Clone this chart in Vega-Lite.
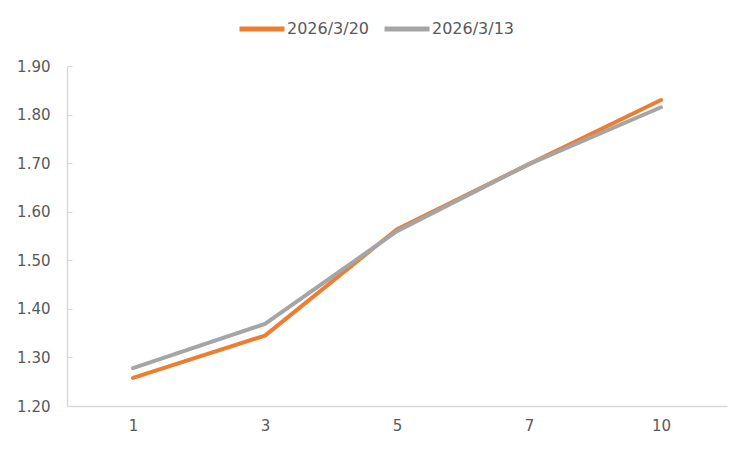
{
  "$schema": "https://vega.github.io/schema/vega-lite/v6.json",
  "autosize": {"type": "none"},
  "width": 660,
  "height": 340,
  "padding": {"left": 67, "top": 66, "right": 23, "bottom": 44},
  "background": "white",
  "config": {"view": {"stroke": null}, "font": "DejaVu Sans"},
  "data": {
    "values": [
      {"tenor": "1", "series": "2026/3/20", "value": 1.258},
      {"tenor": "3", "series": "2026/3/20", "value": 1.345},
      {"tenor": "5", "series": "2026/3/20", "value": 1.564},
      {"tenor": "7", "series": "2026/3/20", "value": 1.698},
      {"tenor": "10", "series": "2026/3/20", "value": 1.830},
      {"tenor": "1", "series": "2026/3/13", "value": 1.278},
      {"tenor": "3", "series": "2026/3/13", "value": 1.369},
      {"tenor": "5", "series": "2026/3/13", "value": 1.560},
      {"tenor": "7", "series": "2026/3/13", "value": 1.698},
      {"tenor": "10", "series": "2026/3/13", "value": 1.815}
    ]
  },
  "mark": {"type": "line", "strokeWidth": 4, "strokeCap": "round", "strokeJoin": "round"},
  "encoding": {
    "x": {
      "field": "tenor", "type": "ordinal", "sort": ["1", "3", "5", "7", "10"],
      "scale": {"type": "point", "padding": 0.5},
      "axis": {"title": null, "labelAngle": 0, "ticks": false, "domainColor": "#D9D9D9", "domainWidth": 1.5, "labelColor": "#595959", "labelFontSize": 15, "labelPadding": 12, "grid": false}
    },
    "y": {
      "field": "value", "type": "quantitative",
      "scale": {"domain": [1.2, 1.9], "nice": false, "zero": false},
      "axis": {"title": null, "values": [1.2, 1.3, 1.4, 1.5, 1.6, 1.7, 1.8, 1.9], "format": ".2f", "grid": false, "domainColor": "#D9D9D9", "domainWidth": 1.5, "tickColor": "#D9D9D9", "tickSize": -5, "labelPadding": 22, "labelColor": "#595959", "labelFontSize": 15}
    },
    "color": {
      "field": "series", "type": "nominal", "sort": ["2026/3/20", "2026/3/13"],
      "scale": {"domain": ["2026/3/20", "2026/3/13"], "range": ["#ED7D31", "#A5A5A5"]},
      "legend": {"title": null, "orient": "none", "legendX": 170, "legendY": -62, "direction": "horizontal", "symbolType": "stroke", "symbolStrokeWidth": 5, "symbolSize": 2025, "labelFontSize": 16, "labelColor": "#595959", "columnPadding": 4, "labelOffset": 0}
    }
  }
}
